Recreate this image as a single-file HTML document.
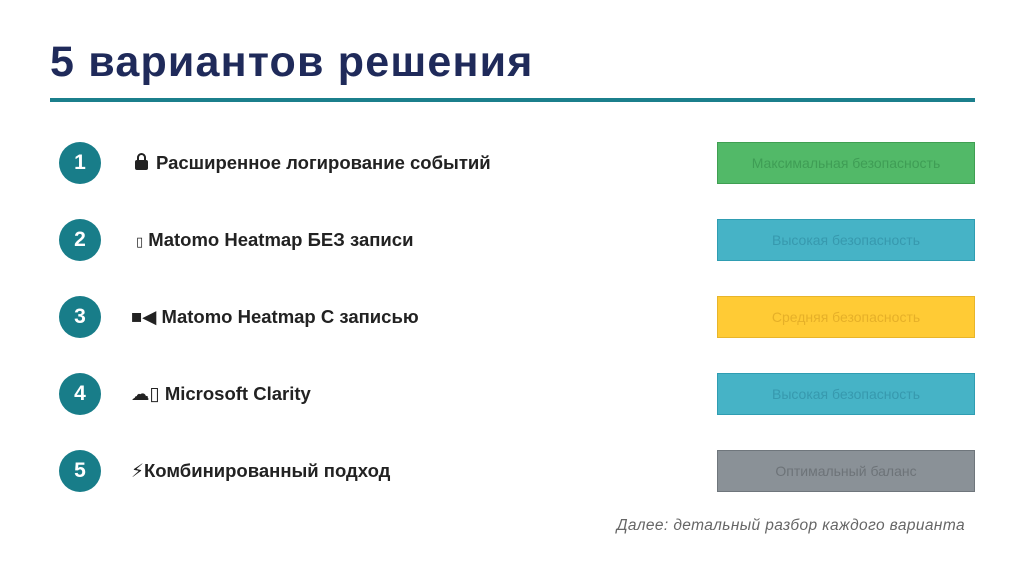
<!DOCTYPE html>
<html><head><meta charset="utf-8"><style>
body{margin:0;width:1024px;height:574px;background:#fff;position:relative;overflow:hidden;font-family:"Liberation Sans","DejaVu Sans",sans-serif}
.title{position:absolute;left:50px;top:38px;font-size:43px;font-weight:bold;color:#1f2a5a;letter-spacing:1.2px}
.rule{position:absolute;left:50px;top:98px;width:925px;height:4px;background:#1b7f8c}
.num{position:absolute;left:59px;width:42px;height:42px;border-radius:50%;background:#187d89;color:#fff;font-weight:bold;font-size:21px;text-align:center;line-height:42px}
.lbl{position:absolute;left:131px;font-size:18.5px;font-weight:bold;color:#222;line-height:24px}
.box{position:absolute;left:717px;width:256px;height:40px;border:1px solid;text-align:center;line-height:40px;font-size:14px}
.foot{position:absolute;right:59px;top:517px;font-size:15.5px;font-style:italic;color:#666;letter-spacing:0.4px}
.lock{display:inline-block;position:relative;width:13px;height:10px;background:#222;border-radius:2px;margin:0 8px 0 4px;vertical-align:-1px}
.lock:before{content:"";position:absolute;left:2px;top:-7px;width:5px;height:7px;border:2px solid #222;border-bottom:none;border-radius:5px 5px 0 0}
</style></head><body>
<div class="title">5 вариантов решения</div>
<div class="rule"></div>

<div class="num" style="top:142px">1</div>
<div class="lbl" style="top:151px"><span class="lock"></span>Расширенное логирование событий</div>
<div class="box" style="top:142px;background:#52b968;border-color:#3f9f52;color:#3f9d55">Максимальная безопасность</div>

<div class="num" style="top:219px">2</div>
<div class="lbl" style="top:228px;left:136px"><span style="font-size:13px;font-weight:normal">▯</span> Matomo Heatmap БЕЗ записи</div>
<div class="box" style="top:219px;background:#46b3c6;border-color:#2f9db2;color:#3799ae">Высокая безопасность</div>

<div class="num" style="top:296px">3</div>
<div class="lbl" style="top:305px">■◀ Matomo Heatmap С записью</div>
<div class="box" style="top:296px;background:#ffcb35;border-color:#e8b52a;color:#e6b028">Средняя безопасность</div>

<div class="num" style="top:373px">4</div>
<div class="lbl" style="top:382px">☁▯ Microsoft Clarity</div>
<div class="box" style="top:373px;background:#46b3c6;border-color:#2f9db2;color:#3799ae">Высокая безопасность</div>

<div class="num" style="top:450px">5</div>
<div class="lbl" style="top:459px">⚡Комбинированный подход</div>
<div class="box" style="top:450px;background:#8a9197;border-color:#6f767c;color:#6d7378">Оптимальный баланс</div>

<div class="foot">Далее: детальный разбор каждого варианта</div>
</body></html>
